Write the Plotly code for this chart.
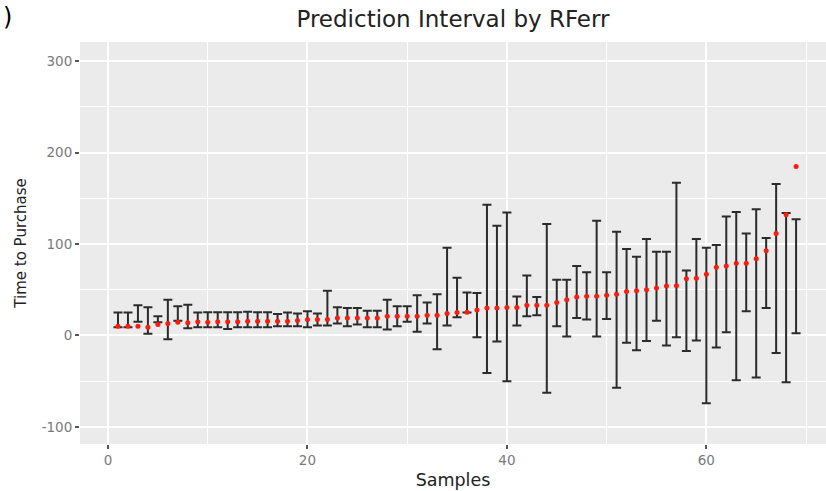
import plotly.graph_objects as go

# Sample index along the x axis
samples = list(range(1, 70))

# Point prediction for each sample
predicted = [10, 10, 10, 9, 12, 13, 14.5, 14, 15, 14.5,
             15, 15, 15, 15.5, 15.5, 15.5, 15.5, 15.5, 16.5, 17.5,
             17.5, 17.5, 19, 19, 19, 19, 19, 21, 21, 21,
             21, 22, 22, 24, 25, 25.5, 28, 30, 30, 30.5,
             30.5, 33, 33, 33, 36, 39, 42, 43, 43, 44,
             45, 48, 49, 50, 52, 54, 54.5, 62, 62.5, 67,
             74.5, 76, 79, 79, 84, 92.7, 111.6, 132, 184.7]

# Lower bound of the prediction interval
lower = [9, 9, 15, 2, 14.5, -4, 16, 8, 9, 9,
         9, 7, 9, 9, 9, 9, 10, 10, 10, 9,
         11, 11, 13, 10, 12, 9, 9, 6.5, 10, 15,
         4, 13, -15, 11, 20, 25, -2, -41, -6.5, -50,
         11, 21, 22, -62.5, 10, -1, 19, 17.5, -1, 18,
         -57, -8, -16, -6, 16, -11, -2, -17, -5.5, -74,
         -13, 3.6, -49, 26.5, -46, 30, -19, -51, 2.5]

# Upper bound of the prediction interval
upper = [25, 25, 33, 31, 21, 39, 32, 33.5, 25, 25.5,
         25.5, 25.5, 25.5, 26, 25.5, 25.5, 23.5, 25, 24, 26.5,
         24, 49, 31, 30, 30, 27, 27, 39, 32, 32,
         44, 36, 45, 96, 63, 47, 46.5, 143, 120, 134.5,
         42.5, 65.5, 42, 122, 61, 61, 76, 69, 125.5, 69,
         113.5, 94.5, 86, 105.5, 91.6, 91.6, 167, 71, 105.5, 96,
         99, 130, 135, 111.6, 138, 106.5, 165.5, 134, 127]

x_ticks = [0, 20, 40, 60]
y_ticks = [-100, 0, 100, 200, 300]

# Interval drawn as a symmetric bar about its midpoint
mid = [(lo + hi) / 2 for lo, hi in zip(lower, upper)]
half = [(hi - lo) / 2 for lo, hi in zip(lower, upper)]

FONT = "DejaVu Sans"

fig = go.Figure()

fig.add_trace(go.Scatter(
    x=samples, y=mid, mode="markers",
    marker=dict(size=1, color="rgba(0,0,0,0)"),
    error_y=dict(type="data", array=half, symmetric=True,
                 color="#2b2b2b", thickness=2, width=4.5),
    hoverinfo="skip", showlegend=False,
))

fig.add_trace(go.Scatter(
    x=samples, y=predicted, mode="markers",
    marker=dict(size=5, color="#ff1a0a"),
    showlegend=False,
))

axis_common = dict(
    showline=False, zeroline=False,
    showgrid=True, gridcolor="white", gridwidth=1.8,
    ticks="outside", ticklen=4, tickwidth=1.5, tickcolor="#555555",
    tickfont=dict(family=FONT, size=13.5, color="#7a7a7a"),
)

fig.update_xaxes(
    range=[-2.81, 72.0], tickmode="array", tickvals=x_ticks,
    ticktext=[str(v) for v in x_ticks],
    minor=dict(dtick=10, tick0=0, showgrid=True, gridcolor="white",
               gridwidth=0.9, ticks=""),
    title=dict(text="Samples", font=dict(family=FONT, size=17.5, color="#222222"),
               standoff=6),
    **axis_common,
)

fig.update_yaxes(
    range=[-118.6, 320.8], tickmode="array", tickvals=y_ticks,
    ticktext=[str(v) for v in y_ticks],
    minor=dict(dtick=50, tick0=0, showgrid=True, gridcolor="white",
               gridwidth=0.9, ticks=""),
    title=dict(text="Time to Purchase", font=dict(family=FONT, size=15, color="#222222"),
               standoff=11),
    **axis_common,
)

fig.update_layout(
    width=826, height=491,
    margin=dict(l=80, r=0, t=42, b=47),
    paper_bgcolor="white", plot_bgcolor="#ebebeb",
    title=dict(text="Prediction Interval by RFerr", x=0.5, xref="paper",
               y=0.962, yref="container", yanchor="middle", xanchor="center",
               font=dict(family=FONT, size=23, color="#222222")),
    annotations=[dict(text=")", xref="paper", yref="paper",
                      x=-79 / 746, y=1 + 41 / 402,
                      xanchor="left", yanchor="top", showarrow=False,
                      font=dict(family=FONT, size=24, color="black"))],
)

fig.write_html("out.html")
